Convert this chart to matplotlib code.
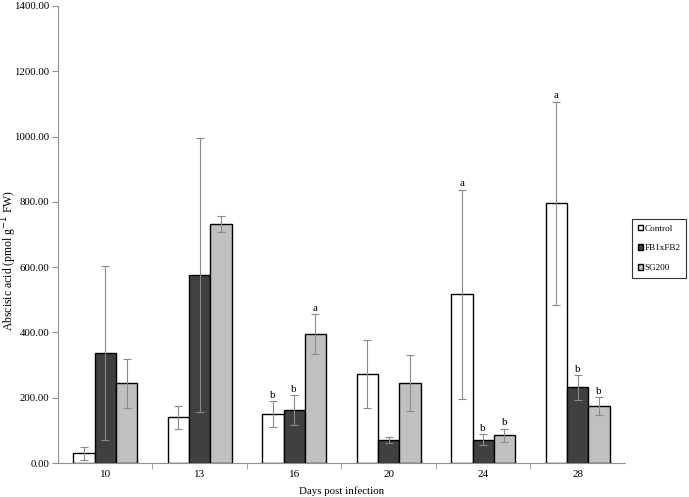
import matplotlib.pyplot as plt
import numpy as np
from matplotlib.ticker import FormatStrFormatter, FixedLocator

days = ["10", "13", "16", "20", "24", "28"]
series = ["Control", "FB1xFB2", "SG200"]
control = [30, 140, 150, 273, 517, 795]
control_err = [20, 35, 40, 104, 320, 312]
fb = [338, 575, 162, 70, 72, 232]
fb_err = [266, 420, 45, 9, 17, 38]
sg = [245, 733, 395, 245, 85, 175]
sg_err = [75, 25, 60, 85, 20, 27]
control_lbl = ["", "", "b", "", "a", "a"]
fb_lbl = ["", "", "b", "", "b", "b"]
sg_lbl = ["", "", "a", "", "b", "b"]

plt.rcParams['font.family'] = ['Liberation Serif', 'DejaVu Serif']

fig = plt.figure(figsize=(6.89, 4.97), dpi=100)
ax = fig.add_axes([0.0842, 0.0684, 0.8228, 0.9196])

x = np.arange(len(days))
w = 0.225
colors = ["white", "#404040", "#c0c0c0"]
for i, (vals, errs, lbls) in enumerate([(control, control_err, control_lbl),
                                         (fb, fb_err, fb_lbl),
                                         (sg, sg_err, sg_lbl)]):
    pos = x + (i - 1) * w
    ax.bar(pos, vals, width=w, color=colors[i], edgecolor="black",
           linewidth=1.0, label=series[i], zorder=2)
    ax.errorbar(pos, vals, yerr=errs, fmt="none", ecolor="#8a8a8a",
                elinewidth=0.8, capsize=3, capthick=0.8, zorder=3)
    for p, v, e, t in zip(pos, vals, errs, lbls):
        if t:
            ax.text(p, v + e + 4, t, ha="center", va="bottom", fontsize=8)

ax.set_xlim(-0.5, 5.5)
ax.set_ylim(0, 1400)
ax.set_yticks(np.arange(0, 1401, 200))
ax.yaxis.set_major_formatter(FormatStrFormatter("%.2f"))
ax.set_xticks(x)
ax.set_xticklabels(days)
ax.xaxis.set_minor_locator(FixedLocator(x[:-1] + 0.5))
ax.tick_params(axis="x", which="major", length=0, labelsize=8, pad=5)
ax.tick_params(axis="x", which="minor", length=4, color="#909090")
ax.tick_params(axis="y", length=4, color="#909090", labelsize=7.8, pad=2)

for s in ["top", "right"]:
    ax.spines[s].set_visible(False)
for s in ["left", "bottom"]:
    ax.spines[s].set_color("#909090")
    ax.spines[s].set_linewidth(0.8)

ax.set_ylabel("Abscisic acid (pmol g$^{-1}$ FW)", fontsize=8.5)
ax.yaxis.set_label_coords(-0.069, 0.444)
ax.set_xlabel("Days post infection", fontsize=7.8)
ax.xaxis.set_label_coords(0.5, -0.052)

leg = ax.legend(loc="upper left", bbox_to_anchor=(632 / 689, 1 - 219 / 497),
                bbox_transform=fig.transFigure, fontsize=6.6,
                frameon=True, fancybox=False, handlelength=0.55,
                handleheight=0.55, handletextpad=0.2, labelspacing=1.3,
                borderpad=0.6, borderaxespad=0)
leg.get_frame().set_edgecolor("black")
leg.get_frame().set_linewidth(0.8)

fig.savefig("out.png", dpi=100)
